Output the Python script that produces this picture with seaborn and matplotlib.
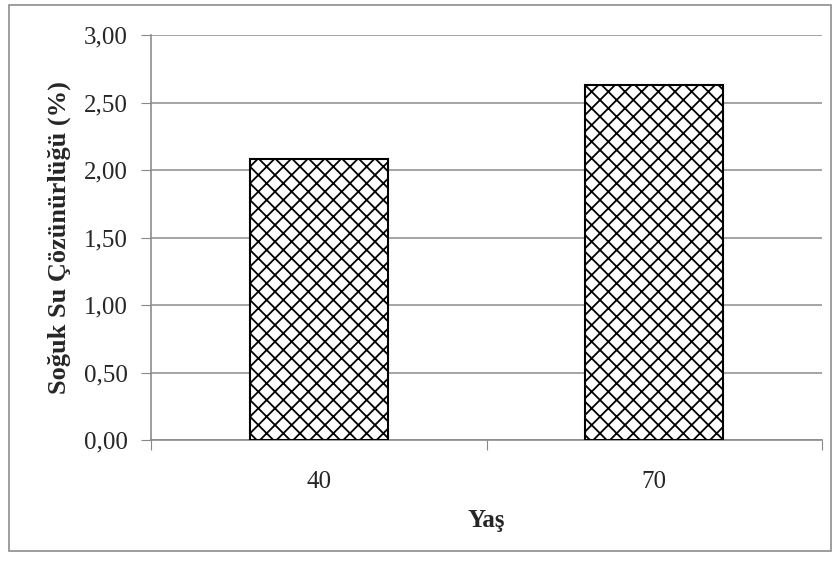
import pandas as pd
import matplotlib.pyplot as plt
import seaborn as sns
from matplotlib.patches import Rectangle

ages = ['40', '70']
solubility = [2.08, 2.63]
yticks = [0.0, 0.5, 1.0, 1.5, 2.0, 2.5, 3.0]
ytick_labels = ['0,00', '0,50', '1,00', '1,50', '2,00', '2,50', '3,00']

df = pd.DataFrame({'Yaş': ages, 'Çözünürlük': solubility})

sns.set_style('white')
plt.rcParams['font.family'] = ['Liberation Serif', 'DejaVu Serif']
plt.rcParams['hatch.linewidth'] = 1.3
plt.rcParams['hatch.color'] = '#333333'

fig = plt.figure(figsize=(8.4, 5.61), dpi=100)
ax = fig.add_axes([151 / 840, 1 - 440 / 561, (822 - 151) / 840, (440 - 35) / 561])

sns.barplot(data=df, x='Yaş', y='Çözünürlük', color='white', edgecolor='black',
            linewidth=1.5, width=0.41, hatch='xx', ax=ax, zorder=3)

ax.set_ylim(0, 3.0)
ax.set_yticks(yticks)
ax.set_yticklabels(ytick_labels, fontsize=18)
ax.set_xlim(-0.5, 1.5)
ax.set_xticks([-0.5, 0.5, 1.5], minor=False)
ax.set_xticklabels([])
ax.set_xticks([0, 1], minor=True)
ax.set_xticklabels(ages, minor=True, fontsize=18)
ax.tick_params(axis='x', which='minor', length=0, pad=22)
ax.tick_params(axis='x', which='major', length=7, color='#888888', direction='out', bottom=True)
ax.tick_params(axis='y', length=7, color='#888888', direction='out', left=True, pad=10)

ax.grid(axis='y', color='#8c8c8c', linewidth=1.1, zorder=0)
ax.set_axisbelow(True)
for side in ['top', 'right']:
    ax.spines[side].set_visible(False)
for side in ['left', 'bottom']:
    ax.spines[side].set_color('#8c8c8c')
    ax.spines[side].set_linewidth(1.2)

ax.set_xlabel('Yaş', fontsize=18, fontweight='bold', labelpad=12)
ax.set_ylabel('Soğuk Su Çözünürlüğü (%)', fontsize=19, fontweight='bold', labelpad=9)

fig.patches.append(Rectangle((9 / 840, 1 - 551 / 561), 822 / 840, 546 / 561,
                             transform=fig.transFigure, fill=False,
                             edgecolor='#8c8c8c', linewidth=1.2))

fig.savefig('out.png', dpi=100)
